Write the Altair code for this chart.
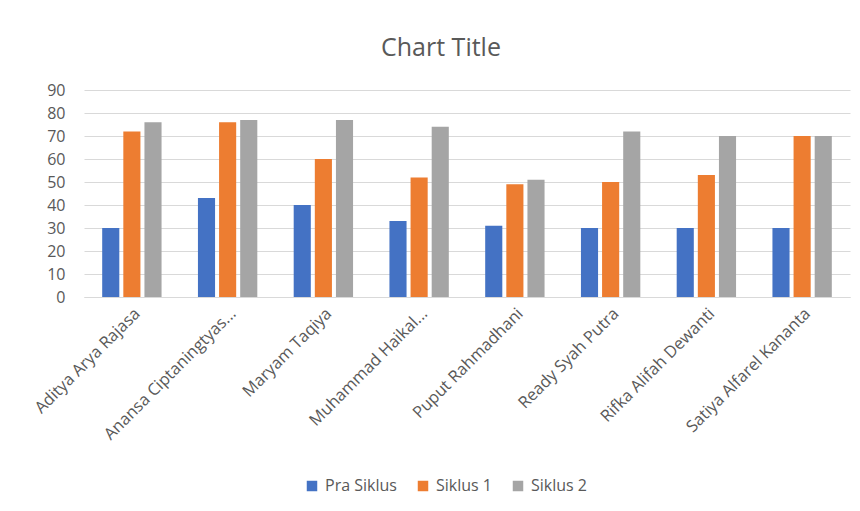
import altair as alt
import pandas as pd

names = [
    "Aditya Arya Rajasa",
    "Anansa Ciptaningtyas...",
    "Maryam Taqiya",
    "Muhammad Haikal...",
    "Puput Rahmadhani",
    "Ready Syah Putra",
    "Rifka Alifah Dewanti",
    "Satiya Alfarel Kananta",
]
series = ["Pra Siklus", "Siklus 1", "Siklus 2"]
pra_siklus = [30, 43, 40, 33, 31, 30, 30, 30]
siklus_1 = [72, 76, 60, 52, 49, 50, 53, 70]
siklus_2 = [76, 77, 77, 74, 51, 72, 70, 70]
colors = ["#4472c4", "#ed7d31", "#a5a5a5"]

rows = []
for s, vals in zip(series, [pra_siklus, siklus_1, siklus_2]):
    for n, v in zip(names, vals):
        rows.append({"Nama": n, "Seri": s, "Nilai": v})
df = pd.DataFrame(rows)

FONT = "Open Sans"
GREY = "#595959"

chart = alt.Chart(df).mark_bar().encode(
    x=alt.X(
        "Nama:N",
        sort=names,
        title=None,
        scale=alt.Scale(paddingInner=0.38, paddingOuter=0.19),
        axis=alt.Axis(
            labelAngle=-45,
            labelAlign="right",
            labelBaseline="top",
            labelFont=FONT,
            labelFontSize=16.5,
            labelColor=GREY,
            labelPadding=8,
            ticks=False,
            domain=True,
            domainColor="#d9d9d9",
            labelLimit=300,
        ),
    ),
    xOffset=alt.XOffset(
        "Seri:N", sort=series, scale=alt.Scale(paddingInner=0.19, paddingOuter=0)
    ),
    y=alt.Y(
        "Nilai:Q",
        title=None,
        scale=alt.Scale(domain=[0, 90], nice=False),
        axis=alt.Axis(
            values=list(range(0, 91, 10)),
            labelFont=FONT,
            labelFontSize=16,
            labelColor=GREY,
            labelPadding=19,
            ticks=False,
            domain=False,
            grid=True,
            gridColor="#d9d9d9",
            gridWidth=1,
        ),
    ),
    color=alt.Color(
        "Seri:N",
        sort=series,
        scale=alt.Scale(domain=series, range=colors),
        legend=alt.Legend(
            title=None,
            orient="none",
            direction="horizontal",
            legendX=220,
            legendY=388,
            symbolType="square",
            symbolSize=110,
            symbolStrokeWidth=0,
            labelFont=FONT,
            labelFontSize=16,
            labelColor=GREY,
            columnPadding=18,
            labelOffset=5,
        ),
    ),
).properties(
    width=766,
    height=207,
    title=alt.TitleParams(
        "Chart Title",
        font=FONT,
        fontSize=25,
        fontWeight="normal",
        color=GREY,
        anchor="middle",
        dx=-26,
        offset=21,
    ),
    autosize=alt.AutoSizeParams(type="none"),
    padding={"left": 76, "top": 82, "right": 2, "bottom": 214},
).configure_view(stroke=None)

chart.save("out.html", embed_options={"renderer": "svg", "actions": False})
